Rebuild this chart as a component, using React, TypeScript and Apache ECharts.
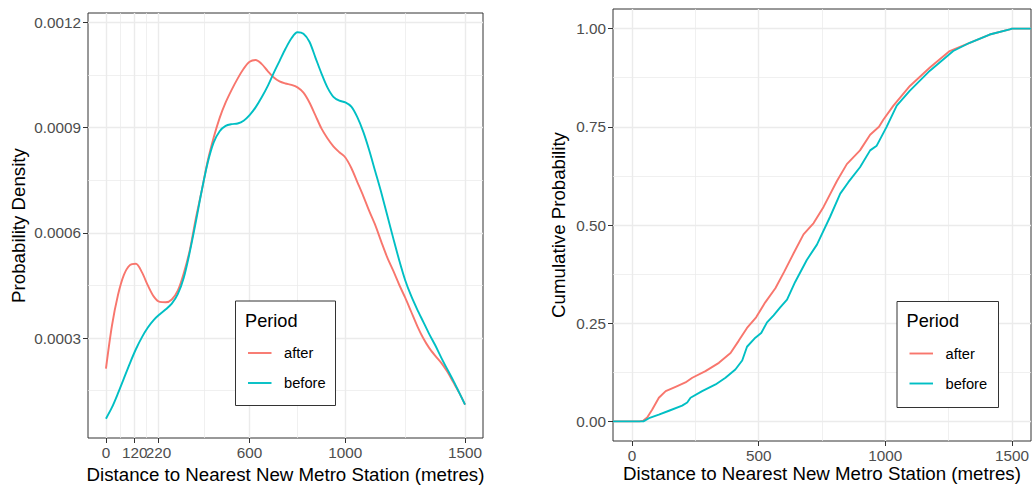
import React, { useEffect, useRef } from "react";
import * as echarts from "echarts";

// ---- density panel data -------------------------------------------------
const DIST_GRID = [
  0, 25, 50, 75, 100, 125, 150, 175, 200, 225, 250, 275, 300, 325, 350, 375,
  400, 425, 450, 475, 500, 525, 550, 575, 600, 625, 650, 675, 700, 725, 750,
  775, 800, 825, 850, 875, 900, 925, 950, 975, 1000, 1025, 1050, 1075, 1100,
  1125, 1150, 1175, 1200, 1225, 1250, 1275, 1300, 1325, 1350, 1375, 1400,
  1425, 1450, 1475, 1500,
];

const AFTER_DENSITY = [
  2.13e-4, 3.35e-4, 4.22e-4, 4.8e-4, 5.08e-4, 5.12e-4, 4.88e-4, 4.5e-4, 4.18e-4,
  4.03e-4, 4.02e-4, 4.1e-4, 4.35e-4, 4.85e-4, 5.5e-4, 6.4e-4, 7.2e-4, 8.05e-4,
  8.72e-4, 9.28e-4, 9.72e-4, 10.08e-4, 10.4e-4, 10.68e-4, 10.88e-4, 10.93e-4,
  10.82e-4, 10.62e-4, 10.44e-4, 10.32e-4, 10.26e-4, 10.22e-4, 10.15e-4, 10.0e-4,
  9.72e-4, 9.35e-4, 8.98e-4, 8.7e-4, 8.47e-4, 8.3e-4, 8.15e-4, 7.85e-4, 7.45e-4,
  7.05e-4, 6.62e-4, 6.22e-4, 5.75e-4, 5.3e-4, 4.92e-4, 4.52e-4, 4.15e-4,
  3.75e-4, 3.35e-4, 3.0e-4, 2.72e-4, 2.5e-4, 2.3e-4, 2.05e-4, 1.75e-4, 1.45e-4,
  1.1e-4,
];

const BEFORE_DENSITY = [
  0.7e-4, 1.02e-4, 1.42e-4, 1.85e-4, 2.28e-4, 2.68e-4, 3.02e-4, 3.3e-4, 3.52e-4,
  3.68e-4, 3.82e-4, 3.98e-4, 4.25e-4, 4.72e-4, 5.45e-4, 6.3e-4, 7.2e-4, 8.0e-4,
  8.58e-4, 8.9e-4, 9.05e-4, 9.1e-4, 9.12e-4, 9.2e-4, 9.36e-4, 9.58e-4, 9.86e-4,
  10.18e-4, 10.55e-4, 10.9e-4, 11.25e-4, 11.55e-4, 11.72e-4, 11.68e-4,
  11.45e-4, 11.0e-4, 10.55e-4, 10.15e-4, 9.88e-4, 9.77e-4, 9.72e-4, 9.6e-4,
  9.3e-4, 8.88e-4, 8.35e-4, 7.75e-4, 7.15e-4, 6.5e-4, 5.85e-4, 5.22e-4,
  4.65e-4, 4.2e-4, 3.82e-4, 3.47e-4, 3.12e-4, 2.8e-4, 2.45e-4, 2.12e-4, 1.8e-4,
  1.45e-4, 1.1e-4,
];

// ---- cumulative panel data ----------------------------------------------
const AFTER_ECDF_X = [
  -75, 30, 45, 60, 80, 106, 133, 172, 211, 238, 290, 343, 389, 421, 454, 490,
  526, 566, 600, 638, 677, 717, 756, 809, 848, 900, 940, 975, 992, 1032, 1097,
  1176, 1254, 1333, 1412, 1491, 1500, 1575,
];
const AFTER_ECDF_Y = [
  0, 0, 0.002, 0.01, 0.03, 0.06, 0.077, 0.088, 0.099, 0.111, 0.128, 0.149,
  0.174, 0.205, 0.238, 0.265, 0.303, 0.339, 0.38, 0.428, 0.476, 0.505, 0.546,
  0.612, 0.655, 0.69, 0.73, 0.75, 0.768, 0.804, 0.854, 0.901, 0.943, 0.964,
  0.985, 0.998, 1, 1,
];

const BEFORE_ECDF_X = [
  -75, 45, 67, 106, 146, 198, 218, 231, 277, 330, 369, 408, 435, 454, 487, 510,
  533, 559, 585, 612, 644, 690, 730, 782, 822, 854, 900, 940, 966, 1005, 1045,
  1097, 1176, 1268, 1333, 1412, 1491, 1500, 1575,
];
const BEFORE_ECDF_Y = [
  0, 0, 0.008, 0.017, 0.027, 0.04, 0.048, 0.06, 0.077, 0.094, 0.111, 0.132,
  0.155, 0.19, 0.213, 0.225, 0.252, 0.27, 0.29, 0.31, 0.355, 0.411, 0.45, 0.521,
  0.58, 0.609, 0.647, 0.69, 0.702, 0.75, 0.804, 0.842, 0.893, 0.943, 0.964,
  0.985, 0.998, 1, 1,
];

// ---- breaks -------------------------------------------------------------
const DENSITY_X_BREAKS = [0, 120, 220, 600, 1000, 1500];
const DENSITY_X_MINOR = [60, 170, 410, 800, 1250];
const DENSITY_Y_BREAKS = [0.0003, 0.0006, 0.0009, 0.0012];
const DENSITY_Y_MINOR = [0.00015, 0.00045, 0.00075, 0.00105];

const ECDF_X_BREAKS = [0, 500, 1000, 1500];
const ECDF_X_MINOR = [250, 750, 1250];
const ECDF_Y_BREAKS = [0, 0.25, 0.5, 0.75, 1];
const ECDF_Y_MINOR = [0.125, 0.375, 0.625, 0.875];

const PERIODS = ["after", "before"];
const COLORS = ["#F8766D", "#00BFC4"];

const X_TITLE = "Distance to Nearest New Metro Station (metres)";
const FONT = "'Liberation Sans', Arial, Helvetica, sans-serif";
const GRID_COLOR = "#EBEBEB";

// axis ranges (ggplot-style 5% expansion)
const X_RANGE = [-75, 1575];
const DENSITY_Y_RANGE = [0.0000149, 0.0012271];
const ECDF_Y_RANGE = [-0.05, 1.05];

function zip(xs: number[], ys: number[]) {
  return xs.map((x, i) => [x, ys[i]]);
}

// panel grid lines as a `lines` series in data coordinates
function gridSeries(
  idx: number,
  yRange: number[],
  xMajor: number[],
  xMinor: number[],
  yMajor: number[],
  yMinor: number[]
) {
  const major = { color: GRID_COLOR, width: 1.4, opacity: 1 };
  const minor = { color: GRID_COLOR, width: 0.75, opacity: 1 };
  const vert = (v: number, ls: any) => ({
    coords: [
      [v, yRange[0]],
      [v, yRange[1]],
    ],
    lineStyle: ls,
  });
  const horiz = (v: number, ls: any) => ({
    coords: [
      [X_RANGE[0], v],
      [X_RANGE[1], v],
    ],
    lineStyle: ls,
  });
  return {
    type: "lines",
    coordinateSystem: "cartesian2d",
    xAxisIndex: idx,
    yAxisIndex: idx,
    polyline: false,
    silent: true,
    z: 1,
    effect: { show: false },
    lineStyle: { color: GRID_COLOR, width: 1, opacity: 1 },
    data: [
      ...xMinor.map((v) => vert(v, minor)),
      ...yMinor.map((v) => horiz(v, minor)),
      ...xMajor.map((v) => vert(v, major)),
      ...yMajor.map((v) => horiz(v, major)),
    ],
  };
}

function xAxisSpec(idx: number, breaks: number[]) {
  return {
    type: "value",
    gridIndex: idx,
    min: X_RANGE[0],
    max: X_RANGE[1],
    axisLine: { show: false, onZero: false },
    splitLine: { show: false },
    axisTick: {
      show: true,
      length: 5,
      customValues: breaks,
      lineStyle: { color: "#333333", width: 1 },
    },
    axisLabel: {
      customValues: breaks,
      color: "#4D4D4D",
      fontSize: 15.3,
      fontFamily: FONT,
      margin: 7,
      formatter: (v: number) => String(v),
    },
  };
}

function yAxisSpec(idx: number, range: number[], breaks: number[], digits: number) {
  return {
    type: "value",
    gridIndex: idx,
    min: range[0],
    max: range[1],
    axisLine: { show: false, onZero: false },
    splitLine: { show: false },
    axisTick: {
      show: true,
      length: 5,
      customValues: breaks,
      lineStyle: { color: "#333333", width: 1 },
    },
    axisLabel: {
      customValues: breaks,
      color: "#4D4D4D",
      fontSize: 15.3,
      fontFamily: FONT,
      margin: 7,
      formatter: (v: number) => v.toFixed(digits),
    },
  };
}

function legendBox(left: number, top: number, w: number, h: number) {
  const children: any[] = [
    {
      type: "rect",
      z: 100,
      shape: { x: left, y: top, width: w, height: h },
      style: { fill: "#ffffff", stroke: "#333333", lineWidth: 1 },
    },
    {
      type: "text",
      z: 101,
      x: left + 9.5,
      y: top + 19.5,
      style: {
        text: "Period",
        fill: "#000000",
        fontSize: 18.2,
        fontFamily: FONT,
        align: "left",
        verticalAlign: "middle",
      },
    },
  ];
  PERIODS.forEach((p, i) => {
    const cy = top + 52 + i * 30;
    children.push({
      type: "line",
      z: 101,
      shape: { x1: left + 12.5, y1: cy, x2: left + 36, y2: cy },
      style: { stroke: COLORS[i], lineWidth: 1.9 },
    });
    children.push({
      type: "text",
      z: 101,
      x: left + 48.5,
      y: cy,
      style: {
        text: p,
        fill: "#000000",
        fontSize: 14.7,
        fontFamily: FONT,
        align: "left",
        verticalAlign: "middle",
      },
    });
  });
  return { type: "group", z: 100, children };
}

function titleText(text: string, x: number, y: number, rotate = false) {
  return {
    type: "text",
    x,
    y,
    z: 100,
    rotation: rotate ? Math.PI / 2 : 0,
    style: {
      text,
      fill: "#000000",
      fontSize: 18.7,
      fontFamily: FONT,
      align: "center",
      verticalAlign: "middle",
    },
  };
}

function curve(idx: number, i: number, data: number[][], smooth: number | boolean) {
  return {
    name: PERIODS[i],
    type: "line",
    xAxisIndex: idx,
    yAxisIndex: idx,
    data,
    smooth,
    showSymbol: false,
    symbol: "none",
    silent: true,
    z: 3 + i,
    lineStyle: { color: COLORS[i], width: 1.9 },
  };
}

export default function App() {
  const ref = useRef<HTMLDivElement>(null);

  useEffect(() => {
    if (!ref.current) return;
    const chart = echarts.init(ref.current, undefined, { renderer: "svg" });

    const option: any = {
      animation: false,
      backgroundColor: "#ffffff",
      textStyle: { fontFamily: FONT },
      grid: [
        {
          left: 88,
          top: 13,
          width: 395,
          height: 425,
          show: true,
          borderColor: "#333333",
          borderWidth: 1,
          backgroundColor: "transparent",
        },
        {
          left: 613,
          top: 9,
          width: 418,
          height: 432,
          show: true,
          borderColor: "#333333",
          borderWidth: 1,
          backgroundColor: "transparent",
        },
      ],
      xAxis: [xAxisSpec(0, DENSITY_X_BREAKS), xAxisSpec(1, ECDF_X_BREAKS)],
      yAxis: [
        yAxisSpec(0, DENSITY_Y_RANGE, DENSITY_Y_BREAKS, 4),
        yAxisSpec(1, ECDF_Y_RANGE, ECDF_Y_BREAKS, 2),
      ],
      series: [
        gridSeries(0, DENSITY_Y_RANGE, DENSITY_X_BREAKS, DENSITY_X_MINOR, DENSITY_Y_BREAKS, DENSITY_Y_MINOR),
        gridSeries(1, ECDF_Y_RANGE, ECDF_X_BREAKS, ECDF_X_MINOR, ECDF_Y_BREAKS, ECDF_Y_MINOR),
        curve(0, 0, zip(DIST_GRID, AFTER_DENSITY), 0.3),
        curve(0, 1, zip(DIST_GRID, BEFORE_DENSITY), 0.3),
        curve(1, 0, zip(AFTER_ECDF_X, AFTER_ECDF_Y), false),
        curve(1, 1, zip(BEFORE_ECDF_X, BEFORE_ECDF_Y), false),
      ],
      graphic: [
        titleText(X_TITLE, 285.5, 474),
        titleText(X_TITLE, 822, 473.5),
        titleText("Probability Density", 18.5, 225.5, true),
        titleText("Cumulative Probability", 558.8, 225, true),
        legendBox(235.5, 301, 100, 104.5),
        legendBox(897, 301.5, 101.5, 106),
      ],
    };

    chart.setOption(option);
    return () => chart.dispose();
  }, []);

  return (
    <div
      ref={ref}
      style={{ position: "fixed", left: 0, top: 0, width: 1035, height: 488 }}
    />
  );
}
